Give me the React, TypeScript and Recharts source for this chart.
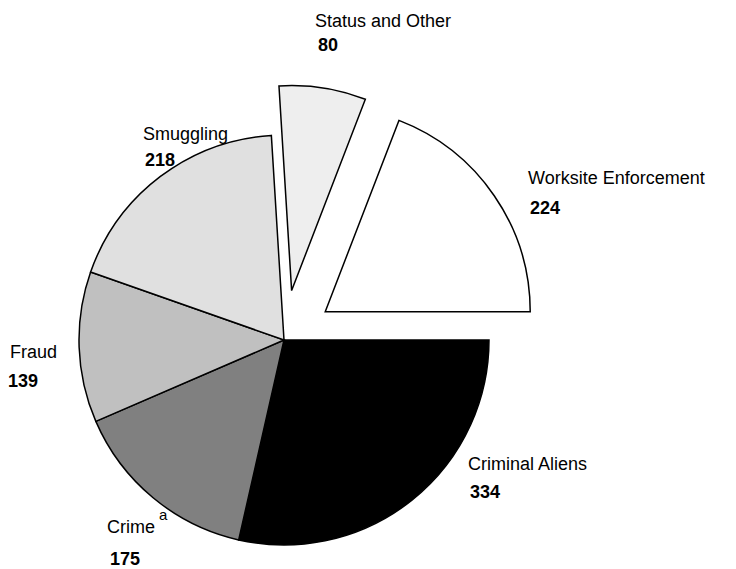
import React from 'react';
import { PieChart, Pie, Cell } from 'recharts';

// values, clockwise from 3 o'clock
const categories = [
  'Criminal Aliens',
  'Crime',
  'Fraud',
  'Smuggling',
  'Status and Other',
  'Worksite Enforcement',
];
const cases = [334, 175, 139, 218, 80, 224];
const footnotes = ['', 'a', '', '', '', ''];

// styling / layout
const shades = ['#000000', '#808080', '#c0c0c0', '#e0e0e0', '#eeeeee', '#ffffff'];
const exploded = [false, false, false, false, true, true];
const labelPos = [
  { x: 468, y: 470, vx: 470, vy: 498 },
  { x: 107, y: 533, vx: 110, vy: 565 },
  { x: 10, y: 358, vx: 8, vy: 387 },
  { x: 143, y: 140, vx: 145, vy: 166 },
  { x: 315, y: 27, vx: 318, vy: 51 },
  { x: 528, y: 184, vx: 530, vy: 214 },
];

const data = categories.map((name, i) => ({ name, value: cases[i] }));

const CX = 284;
const CY = 340;
const R = 205;
const OFFSET = 50;
const RAD = Math.PI / 180;
const FONT = 'Liberation Sans, Arial, sans-serif';

const total = cases.reduce((a, b) => a + b, 0);
const midAngle = (i: number) => {
  const before = cases.slice(0, i).reduce((a, b) => a + b, 0);
  return -((before + cases[i] / 2) / total) * 360;
};

const renderLabel = (props: any) => {
  const i = props.index;
  const p = labelPos[i];
  return (
    <g key={`lbl-${i}`}>
      <text x={p.x} y={p.y} fontSize={18} fontFamily={FONT} fill="#000">
        {categories[i]}
      </text>
      {footnotes[i] ? (
        <text x={p.x + 52} y={p.y - 13} fontSize={15} fontFamily={FONT} fill="#000">
          {footnotes[i]}
        </text>
      ) : null}
      <text x={p.vx} y={p.vy} fontSize={18} fontWeight="bold" fontFamily={FONT} fill="#000">
        {cases[i]}
      </text>
    </g>
  );
};

export default function App() {
  const slices = exploded.map((e, i) => (e ? i : -1)).filter((i) => i >= 0);
  return (
    <div style={{ position: 'absolute', left: 0, top: 0, background: '#fff' }}>
      <PieChart width={736} height={569} margin={{ top: 0, right: 0, bottom: 0, left: 0 }}>
        <Pie
          data={data}
          dataKey="value"
          nameKey="name"
          cx={CX}
          cy={CY}
          outerRadius={R}
          startAngle={0}
          endAngle={-360}
          label={renderLabel}
          labelLine={false}
          isAnimationActive={false}
        >
          {data.map((d, i) => (
            <Cell
              key={d.name}
              fill={exploded[i] ? 'none' : shades[i]}
              stroke={exploded[i] ? 'none' : '#000'}
              strokeWidth={1.5}
            />
          ))}
        </Pie>
        {slices.map((s) => {
          const a = midAngle(s) * RAD;
          return (
            <Pie
              key={`ex-${s}`}
              data={data}
              dataKey="value"
              nameKey="name"
              cx={CX + OFFSET * Math.cos(-a)}
              cy={CY + OFFSET * Math.sin(-a)}
              outerRadius={R}
              startAngle={0}
              endAngle={-360}
              isAnimationActive={false}
            >
              {data.map((d, i) => (
                <Cell
                  key={d.name}
                  fill={i === s ? shades[i] : 'none'}
                  stroke={i === s ? '#000' : 'none'}
                  strokeWidth={1.5}
                />
              ))}
            </Pie>
          );
        })}
      </PieChart>
    </div>
  );
}
